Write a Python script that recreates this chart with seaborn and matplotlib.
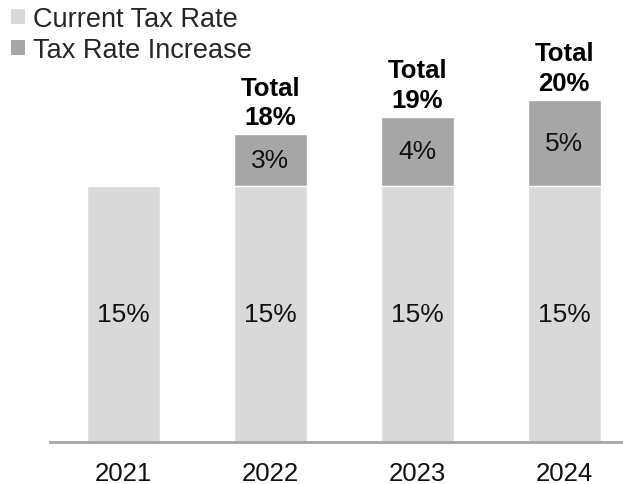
import matplotlib
matplotlib.use("Agg")
import pandas as pd
import seaborn as sns
import matplotlib.pyplot as plt
from matplotlib.patches import Patch

years = ["2021", "2022", "2023", "2024"]
current_rate = [15, 15, 15, 15]
rate_increase = [0, 3, 4, 5]
total_rate = [c + i for c, i in zip(current_rate, rate_increase)]

light = "#d9d9d9"
dark = "#a6a6a6"

sns.set_theme(style="white")
plt.rcParams["font.family"] = ["Liberation Sans", "DejaVu Sans"]

df = pd.DataFrame({"year": years, "current": current_rate,
                   "increase": rate_increase, "total": total_rate})

fig = plt.figure(figsize=(6.23, 4.85), dpi=100)
ax = fig.add_axes([50 / 623, 42.3 / 485, 573 / 623, 442.7 / 485])

# total bars first, the current rate is drawn over them
sns.barplot(data=df, x="year", y="total", color=dark, saturation=1,
            width=0.5, ax=ax)
sns.barplot(data=df, x="year", y="current", color=light, saturation=1,
            width=0.5, ax=ax)

for i, row in df.iterrows():
    ax.text(i, row["current"] / 2, f"{row['current']}%", ha="center", va="center",
            fontsize=19, color="#111111")
    if row["increase"] > 0:
        ax.text(i, row["current"] + row["increase"] / 2, f"{row['increase']}%",
                ha="center", va="center", fontsize=19, color="#111111")
        ax.text(i, row["total"] + 0.3, f"Total\n{row['total']}%", ha="center",
                va="bottom", fontsize=18.5, fontweight="bold", linespacing=1.3,
                color="black")

ax.set_xlim(-0.5, 3.4)
ax.set_ylim(0, 25.93)
ax.set_xlabel("")
ax.set_ylabel("")
ax.set_yticks([])
ax.tick_params(axis="x", length=0, pad=14, labelsize=18.5, labelcolor="#111111")
for side in ["top", "right", "left"]:
    ax.spines[side].set_visible(False)
ax.spines["bottom"].set_color(dark)
ax.spines["bottom"].set_linewidth(2)

handles = [Patch(facecolor=light, edgecolor="none", label="Current Tax Rate"),
           Patch(facecolor=dark, edgecolor="none", label="Tax Rate Increase")]
fig.legend(handles=handles, loc="upper left", bbox_to_anchor=(-0.012, 1.025),
           frameon=False, fontsize=19.5, handlelength=0.5, handleheight=0.5,
           handletextpad=0.3, labelspacing=0.2, borderaxespad=0.3)

fig.savefig("out.png", dpi=100)
